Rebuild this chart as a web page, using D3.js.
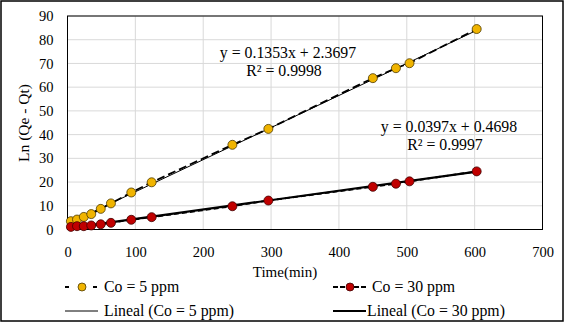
<!DOCTYPE html>
<html>
<head>
<meta charset="utf-8">
<script src="https://cdn.jsdelivr.net/npm/d3@7/dist/d3.min.js"></script>
<style>
  html, body { margin: 0; padding: 0; background: #fff; }
  svg { display: block; }
  svg text { font-family: "Liberation Serif", "Times New Roman", serif; }
</style>
</head>
<body>
<svg id="chart" width="566" height="324"></svg>
<script>
// Sampling times (min) and linearised values for each initial concentration
const times5 = [5, 14, 24, 35, 49, 64, 94, 124, 243, 296, 450, 484, 504, 603];
const values5 = [3.5, 4.2, 5.3, 6.5, 8.7, 11.0, 15.6, 19.9, 35.7, 42.4, 63.8, 68.0, 70.1, 84.5];
const times30 = [5, 14, 24, 35, 49, 64, 94, 124, 243, 296, 450, 484, 504, 603];
const values30 = [1.1, 1.4, 1.4, 1.7, 2.2, 2.8, 4.1, 5.2, 9.8, 12.2, 18.0, 19.3, 20.3, 24.5];

// Linear fits reported on the chart
const fit5 = { slope: 0.1353, intercept: 2.3697, r2: 0.9998 };
const fit30 = { slope: 0.0397, intercept: 0.4698, r2: 0.9997 };

const xTicks = [0, 100, 200, 300, 400, 500, 600, 700];
const yTicks = [0, 10, 20, 30, 40, 50, 60, 70, 80, 90];

const svg = d3.select("#chart");
const plot = { left: 67.5, top: 16, right: 542.5, bottom: 229.5 };

// outer frame
svg.append("rect").attr("x", 1).attr("y", 1).attr("width", 562).attr("height", 320)
  .attr("fill", "#fff").attr("stroke", "#000").attr("stroke-width", 1.5);

const x = d3.scaleLinear().domain([0, 700]).range([plot.left, plot.right]);
const y = d3.scaleLinear().domain([0, 90]).range([plot.bottom, plot.top]);

// gridlines
const grid = svg.append("g");
grid.selectAll("line.h").data(yTicks).join("line")
  .attr("x1", plot.left).attr("x2", plot.right)
  .attr("y1", d => y(d)).attr("y2", d => y(d))
  .attr("stroke", "#d9d9d9").attr("stroke-width", 1);
grid.selectAll("line.v").data(xTicks).join("line")
  .attr("y1", plot.top).attr("y2", plot.bottom)
  .attr("x1", d => x(d)).attr("x2", d => x(d))
  .attr("stroke", "#d9d9d9").attr("stroke-width", 1);

// plot border
svg.append("rect").attr("x", plot.left).attr("y", plot.top)
  .attr("width", plot.right - plot.left).attr("height", plot.bottom - plot.top)
  .attr("fill", "none").attr("stroke", "#000").attr("stroke-width", 1);

// axes (labels only)
const xAxis = d3.axisBottom(x).tickValues(xTicks).tickSize(0).tickPadding(17);
svg.append("g").attr("transform", `translate(0,${plot.bottom})`).call(xAxis)
  .attr("font-family", null).attr("font-size", 14.5)
  .call(g => g.select(".domain").remove())
  .selectAll("text").attr("fill", "#000");

const yAxis = d3.axisLeft(y).tickValues(yTicks).tickSize(0).tickPadding(14);
svg.append("g").attr("transform", `translate(${plot.left},0)`).call(yAxis)
  .attr("font-family", null).attr("font-size", 14.5)
  .call(g => g.select(".domain").remove())
  .selectAll("text").attr("fill", "#000");

// axis titles
svg.append("text").attr("x", 285).attr("y", 277).attr("text-anchor", "middle")
  .attr("font-size", 15).text("Time(min)");
svg.append("text").attr("transform", "translate(29,123) rotate(-90)")
  .attr("text-anchor", "middle").attr("font-size", 15.5).text("Ln (Qe - Qt)");

const line = d3.line().x(d => x(d[0])).y(d => y(d[1]));

// trendlines over the measured time range
function trend(fit, ts) {
  const x0 = d3.min(ts), x1 = d3.max(ts);
  return [[x0, fit.intercept + fit.slope * x0], [x1, fit.intercept + fit.slope * x1]];
}
svg.append("path").attr("d", line(trend(fit5, times5)))
  .attr("stroke", "#000").attr("stroke-width", 1).attr("fill", "none");
svg.append("path").attr("d", line(trend(fit30, times30)))
  .attr("stroke", "#000").attr("stroke-width", 2.2).attr("fill", "none");

// data series lines
const pts5 = times5.map((t, i) => [t, values5[i]]);
const pts30 = times30.map((t, i) => [t, values30[i]]);
svg.append("path").attr("d", line(pts5)).attr("fill", "none")
  .attr("stroke", "#000").attr("stroke-width", 1.8).attr("stroke-dasharray", "8,4");
svg.append("path").attr("d", line(pts30)).attr("fill", "none")
  .attr("stroke", "#000").attr("stroke-width", 1.8).attr("stroke-dasharray", "5,3");

// markers
const gold = "#f0b400", red = "#c00000";
svg.append("g").selectAll("circle").data(pts5).join("circle")
  .attr("cx", d => x(d[0])).attr("cy", d => y(d[1])).attr("r", 4.5)
  .attr("fill", gold).attr("stroke", "#4d3a00").attr("stroke-width", 0.8);
svg.append("g").selectAll("circle").data(pts30).join("circle")
  .attr("cx", d => x(d[0])).attr("cy", d => y(d[1])).attr("r", 4.5)
  .attr("fill", red).attr("stroke", "#400000").attr("stroke-width", 0.8);

// equation labels
const fmt = d3.format(".4f");
function eq(fit, cx, cy) {
  svg.append("text").attr("x", cx).attr("y", cy).attr("text-anchor", "middle")
    .attr("font-size", 15.8).text(`y = ${fmt(fit.slope)}x + ${fmt(fit.intercept)}`);
  svg.append("text").attr("x", cx - 4).attr("y", cy + 18).attr("text-anchor", "middle")
    .attr("font-size", 15.8).text(`R² = ${fmt(fit.r2)}`);
}
eq(fit5, 288, 58);
eq(fit30, 449, 132);

// legend
const legend = svg.append("g").attr("font-size", 15.8);
function legendSeries(x0, yy, tx, color, stroke, dash, label) {
  legend.append("line").attr("x1", x0).attr("x2", x0 + 33).attr("y1", yy).attr("y2", yy)
    .attr("stroke", "#000").attr("stroke-width", 1.8).attr("stroke-dasharray", dash);
  legend.append("circle").attr("cx", x0 + 17).attr("cy", yy).attr("r", 4)
    .attr("fill", color).attr("stroke", stroke).attr("stroke-width", 0.8);
  legend.append("text").attr("x", tx).attr("y", yy + 5).text(label);
}
function legendTrend(x0, yy, tx, w, label) {
  legend.append("line").attr("x1", x0).attr("x2", x0 + 33).attr("y1", yy).attr("y2", yy)
    .attr("stroke", "#000").attr("stroke-width", w);
  legend.append("text").attr("x", tx).attr("y", yy + 5).text(label);
}
legendSeries(65, 287, 104, gold, "#4d3a00", "4,24,4", "Co = 5 ppm");
legendTrend(65, 311, 104, 1, "Lineal (Co = 5 ppm)");
legendSeries(333, 287, 372, red, "#400000", "5,2", "Co = 30 ppm");
legendTrend(333, 311, 367, 2.2, "Lineal (Co = 30 ppm)");
</script>
</body>
</html>
